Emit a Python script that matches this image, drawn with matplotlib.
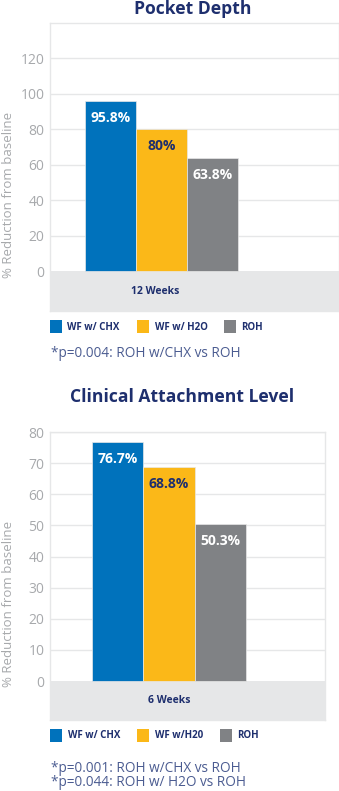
import matplotlib
matplotlib.use("Agg")
import matplotlib.pyplot as plt
from matplotlib.patches import Rectangle

plt.rcParams['font.family'] = ['Open Sans', 'DejaVu Sans']

# --- data ---
series_names_pd = ["WF w/ CHX", "WF w/ H2O", "ROH"]
series_names_cal = ["WF w/ CHX", "WF w/H20", "ROH"]
pocket_depth = [95.8, 80, 63.8]
pocket_labels = ["95.8%", "80%", "63.8%"]
attachment = [76.7, 68.8, 50.3]
attachment_labels = ["76.7%", "68.8%", "50.3%"]
pd_period = "12 Weeks"
cal_period = "6 Weeks"
pd_ticks = [0, 20, 40, 60, 80, 100, 120]
cal_ticks = [0, 10, 20, 30, 40, 50, 60, 70, 80]
pd_notes = ["*p=0.004: ROH w/CHX vs ROH"]
cal_notes = ["*p=0.001: ROH w/CHX vs ROH", "*p=0.044: ROH w/ H2O vs ROH"]

# --- style ---
BAR_COLORS = ["#0072BC", "#FBB818", "#808285"]
LABEL_COLORS = ["white", "#1E2F6E", "white"]
NAVY = "#1E2F6E"
NOTE_COLOR = "#4B5C91"
TICK_COLOR = "#A7A9AC"
GRID = "#E6E7E8"
BAND = "#E6E7E8"

W, H = 339, 791
fig = plt.figure(figsize=(W / 100, H / 100), dpi=100)


def px_axes(left, top, right, bottom):
    return fig.add_axes([left / W, 1 - bottom / H, (right - left) / W, (bottom - top) / H])


def fig_text(x, y, s, **kw):
    fig.text(x / W, 1 - y / H, s, **kw)


def fig_square(x0, y0, x1, y1, color):
    fig.add_artist(Rectangle((x0 / W, 1 - y1 / H), (x1 - x0) / W, (y1 - y0) / H,
                             transform=fig.transFigure, facecolor=color, edgecolor='none'))


def draw_chart(box, values, labels, ticks, ylim, xlim, period, period_x):
    ax = px_axes(*box)
    ax.set_ylim(*ylim)
    ax.set_xlim(*xlim)
    ax.axhspan(ylim[0], 0, color=BAND, lw=0, zorder=0)
    for t in ticks[1:]:
        ax.axhline(t, color=GRID, lw=1.0, zorder=0)
    ax.bar(range(len(values)), values, width=1.0, color=BAR_COLORS,
           edgecolor='#E8E8E8', linewidth=0.5, zorder=2)
    for i, (v, lab) in enumerate(zip(values, labels)):
        ax.annotate(lab, (i, v), xytext=(0, -12), textcoords='offset points',
                    ha='center', va='center', fontsize=10, fontweight='bold',
                    color=LABEL_COLORS[i], zorder=3)
    ax.text(period_x, ylim[0] / 2, period, ha='center', va='center',
            fontsize=7.5, fontweight='bold', color=NAVY)
    ax.set_yticks(ticks)
    ax.set_yticklabels([str(t) for t in ticks], fontsize=10, color=TICK_COLOR,
                       fontweight='normal')
    ax.tick_params(axis='y', length=0, pad=4)
    ax.set_xticks([])
    for s in ax.spines.values():
        s.set_color(GRID)
        s.set_linewidth(1.0)
    return ax


# Pocket Depth
draw_chart((50, 23, 339, 311), pocket_depth, pocket_labels, pd_ticks,
           (-22.5, 140), (-1.186, 4.48), pd_period, 0.87)
fig_text(193, 14, "Pocket Depth", ha='center', va='baseline', fontsize=12.6,
         fontweight='bold', color=NAVY)
fig_text(9, 195, "% Reduction from baseline", rotation=90, ha='center', va='center',
         fontsize=9.5, fontweight='normal', color=TICK_COLOR)

legend_pd = [(50, 67), (137, 155), (224, 241)]
for (sx, tx), name, c in zip(legend_pd, series_names_pd, BAR_COLORS):
    fig_square(sx, 320, sx + 12, 333, c)
    fig_text(tx, 327, name, ha='left', va='center', fontsize=7, fontweight='bold', color=NAVY)
for k, note in enumerate(pd_notes):
    fig_text(51, 353 + 15 * k, note, ha='left', va='center', fontsize=9.8,
             fontweight='normal', color=NOTE_COLOR)

# Clinical Attachment Level
draw_chart((50, 432, 325, 720), attachment, attachment_labels, cal_ticks,
           (-12.5, 80), (-1.324, 4.05), cal_period, 1.0)
fig_text(182, 402, "Clinical Attachment Level", ha='center', va='baseline', fontsize=12.6,
         fontweight='bold', color=NAVY)
fig_text(9, 604, "% Reduction from baseline", rotation=90, ha='center', va='center',
         fontsize=9.5, fontweight='normal', color=TICK_COLOR)

legend_cal = [(50, 68), (137, 155), (220, 237)]
for (sx, tx), name, c in zip(legend_cal, series_names_cal, BAR_COLORS):
    fig_square(sx, 729, sx + 12, 742, c)
    fig_text(tx, 736, name, ha='left', va='center', fontsize=7, fontweight='bold', color=NAVY)
for k, note in enumerate(cal_notes):
    fig_text(51, 768 + 15 * k, note, ha='left', va='center', fontsize=9.8,
             fontweight='normal', color=NOTE_COLOR)

fig.savefig("out.png", dpi=100)
